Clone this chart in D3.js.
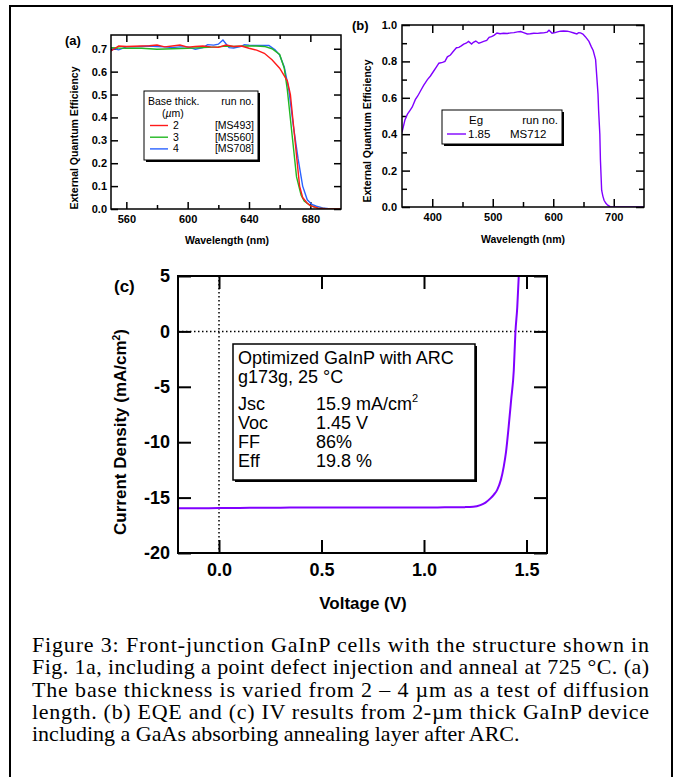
<!DOCTYPE html>
<html>
<head>
<meta charset="utf-8">
<script src="https://cdn.jsdelivr.net/npm/d3@7"></script>
<style>
  body { margin: 0; background: #fff; }
  svg { display: block; }
</style>
</head>
<body>
<svg id="fig" width="681" height="777"></svg>
<script>
// ---- data ----
// (a) EQE vs wavelength for three base thicknesses
const redWl = [550, 555, 560, 565, 570, 575, 580, 585, 590, 595, 600, 605, 610, 615, 620, 625, 630, 635, 640, 645, 650, 655, 660, 665, 667, 670, 673, 675, 678, 680, 685, 690, 695, 700];
const redEqe = [0.690, 0.712, 0.710, 0.711, 0.712, 0.713, 0.716, 0.708, 0.712, 0.716, 0.707, 0.710, 0.712, 0.708, 0.706, 0.716, 0.710, 0.712, 0.702, 0.694, 0.680, 0.652, 0.615, 0.560, 0.500, 0.300, 0.100, 0.050, 0.025, 0.015, 0.004, 0.001, 0, 0];

const greenWl = [550, 555, 560, 570, 580, 590, 600, 610, 620, 625, 630, 640, 645, 650, 655, 660, 663, 665, 668, 671, 674, 676, 680, 685, 690, 700];
const greenEqe = [0.705, 0.703, 0.702, 0.702, 0.698, 0.700, 0.702, 0.705, 0.708, 0.712, 0.710, 0.712, 0.712, 0.710, 0.700, 0.675, 0.615, 0.520, 0.330, 0.140, 0.060, 0.035, 0.015, 0.004, 0.001, 0];

const blueWl = [550, 552, 555, 560, 565, 570, 575, 580, 585, 590, 595, 600, 605, 610, 613, 617, 620, 623, 627, 630, 635, 637, 640, 645, 650, 653, 657, 660, 663, 666, 669, 672, 675, 678, 681, 684, 688, 692, 700];
const blueEqe = [0.690, 0.700, 0.695, 0.708, 0.708, 0.710, 0.712, 0.710, 0.708, 0.705, 0.708, 0.708, 0.698, 0.705, 0.718, 0.716, 0.720, 0.738, 0.705, 0.703, 0.710, 0.718, 0.716, 0.714, 0.714, 0.714, 0.695, 0.672, 0.620, 0.520, 0.360, 0.220, 0.100, 0.040, 0.020, 0.012, 0.005, 0.001, 0];

const legendA = [
  { thick: "2", run: "[MS493]", color: "#ff1a1a" },
  { thick: "3", run: "[MS560]", color: "#22b822" },
  { thick: "4", run: "[MS708]", color: "#2a62ff" },
];

// (b) EQE of MS712
const purpleWl = [350, 355, 359, 363, 367, 372, 376, 381, 386, 392, 397, 403, 407, 411, 417, 421, 425, 430, 436, 440, 444, 448, 452, 456, 460, 465, 468, 472, 477, 481, 485, 490, 494, 498, 502, 507, 512, 518, 524, 530, 535, 541, 546, 551, 557, 562, 568, 574, 579, 584, 590, 593, 598, 603, 607, 612, 617, 623, 628, 634, 639, 642, 645, 649, 653, 659, 663, 666, 670, 672, 674, 675, 677, 678, 680, 682, 684, 687, 690, 694, 700, 710, 720, 730, 740, 750];
const purpleEqe = [0.41, 0.48, 0.51, 0.53, 0.55, 0.59, 0.61, 0.64, 0.67, 0.70, 0.72, 0.75, 0.77, 0.79, 0.795, 0.80, 0.825, 0.835, 0.86, 0.875, 0.877, 0.885, 0.895, 0.90, 0.91, 0.895, 0.905, 0.912, 0.90, 0.905, 0.91, 0.915, 0.932, 0.936, 0.943, 0.956, 0.952, 0.955, 0.953, 0.957, 0.958, 0.962, 0.964, 0.958, 0.951, 0.952, 0.955, 0.954, 0.956, 0.957, 0.961, 0.971, 0.955, 0.958, 0.962, 0.966, 0.967, 0.966, 0.962, 0.956, 0.951, 0.958, 0.957, 0.950, 0.936, 0.910, 0.880, 0.860, 0.810, 0.715, 0.620, 0.530, 0.400, 0.257, 0.092, 0.060, 0.037, 0.020, 0.010, 0.002, 0, 0, 0, 0, 0, 0];

// (c) IV curve
const volts = [-0.2, -0.1, 0.0, 0.1, 0.2, 0.3, 0.4, 0.5, 0.6, 0.7, 0.8, 0.9, 1.0, 1.1, 1.2, 1.24, 1.275, 1.3, 1.324, 1.34, 1.357, 1.375, 1.389, 1.40, 1.413, 1.425, 1.438, 1.446, 1.455, 1.462, 1.47];
const jsc = [-15.97, -15.96, -15.94, -15.93, -15.92, -15.91, -15.9, -15.9, -15.9, -15.89, -15.89, -15.9, -15.9, -15.88, -15.86, -15.83, -15.68, -15.45, -15.07, -14.75, -14.3, -13.4, -12.2, -10.9, -8.6, -6.2, -3.5, -0.06, 2.2, 4.9, 7.0];

const legendCLines = ["Optimized GaInP with ARC", "g173g, 25 \u00b0C"];
const legendCRows = [["Jsc", "15.9 mA/cm", "2"], ["Voc", "1.45 V", ""], ["FF", "86%", ""], ["Eff", "19.8 %", ""]];

const captionLines = [
  "Figure 3: Front-junction GaInP cells with the structure shown in",
  "Fig. 1a, including a point defect injection and anneal at 725 \u00b0C. (a)",
  "The base thickness is varied from 2 \u2013 4 \u00b5m as a test of diffusion",
  "length. (b) EQE and (c) IV results from 2-\u00b5m thick GaInP device",
  "including a GaAs absorbing annealing layer after ARC.",
];

// ---- drawing ----
const svg = d3.select("#fig");
const SANS = "'Liberation Sans', Arial, Helvetica, sans-serif";
const SERIF = "'Liberation Serif', 'Times New Roman', Times, serif";

// outer frame
svg.append("rect")
  .attr("x", 10).attr("y", 6)
  .attr("width", 662).attr("height", 820)
  .attr("fill", "none").attr("stroke", "#000").attr("stroke-width", 2);

function zip(xs, ys) {
  return xs.map((x, i) => ({ x, y: ys[i] }));
}

// generic framed panel with inside ticks on all sides
function panel(opt) {
  const x = d3.scaleLinear().domain(opt.xDomain).range([opt.left, opt.right]);
  const y = d3.scaleLinear().domain(opt.yDomain).range([opt.bottom, opt.top]);
  const g = svg.append("g");
  const W = opt.right - opt.left;
  const H = opt.bottom - opt.top;

  const styleAxis = (sel) => {
    sel.select(".domain").remove();
    sel.selectAll("line").attr("stroke", "#000").attr("stroke-width", opt.tickWidth);
    sel.selectAll("text")
      .attr("fill", "#000")
      .style("font-family", SANS)
      .style("font-weight", "bold")
      .style("font-size", opt.tickFont + "px");
  };

  // bottom with labels
  g.append("g")
    .attr("transform", `translate(0,${opt.bottom})`)
    .call(d3.axisBottom(x).tickValues(opt.xMajor).tickSizeInner(-opt.major).tickSizeOuter(0)
      .tickPadding(opt.xPad).tickFormat(opt.xFormat))
    .call(styleAxis);
  g.append("g")
    .attr("transform", `translate(0,${opt.bottom})`)
    .call(d3.axisBottom(x).tickValues(opt.xMinor || []).tickSizeInner(-opt.minor).tickSizeOuter(0).tickFormat(""))
    .call(styleAxis);
  // top
  g.append("g")
    .attr("transform", `translate(0,${opt.top})`)
    .call(d3.axisTop(x).tickValues(opt.xMajor).tickSizeInner(-opt.major).tickSizeOuter(0).tickFormat(""))
    .call(styleAxis);
  g.append("g")
    .attr("transform", `translate(0,${opt.top})`)
    .call(d3.axisTop(x).tickValues(opt.xMinor || []).tickSizeInner(-opt.minor).tickSizeOuter(0).tickFormat(""))
    .call(styleAxis);
  // left with labels
  g.append("g")
    .attr("transform", `translate(${opt.left},0)`)
    .call(d3.axisLeft(y).tickValues(opt.yMajor).tickSizeInner(-opt.major).tickSizeOuter(0)
      .tickPadding(opt.yPad).tickFormat(opt.yFormat))
    .call(styleAxis);
  g.append("g")
    .attr("transform", `translate(${opt.left},0)`)
    .call(d3.axisLeft(y).tickValues(opt.yMinor || []).tickSizeInner(-opt.minor).tickSizeOuter(0).tickFormat(""))
    .call(styleAxis);
  // right
  g.append("g")
    .attr("transform", `translate(${opt.right},0)`)
    .call(d3.axisRight(y).tickValues(opt.yMajor).tickSizeInner(-opt.major).tickSizeOuter(0).tickFormat(""))
    .call(styleAxis);
  g.append("g")
    .attr("transform", `translate(${opt.right},0)`)
    .call(d3.axisRight(y).tickValues(opt.yMinor || []).tickSizeInner(-opt.minor).tickSizeOuter(0).tickFormat(""))
    .call(styleAxis);

  const clipId = "clip" + opt.id;
  svg.append("clipPath").attr("id", clipId)
    .append("rect").attr("x", opt.left).attr("y", opt.top).attr("width", W).attr("height", H);
  const plot = svg.append("g").attr("clip-path", `url(#${clipId})`);

  const frame = () => svg.append("rect")
    .attr("x", opt.left).attr("y", opt.top).attr("width", W).attr("height", H)
    .attr("fill", "none").attr("stroke", "#000").attr("stroke-width", opt.frameWidth);

  // axis titles
  svg.append("text")
    .attr("x", opt.xTitlePos[0]).attr("y", opt.xTitlePos[1])
    .attr("text-anchor", "middle")
    .style("font-family", SANS).style("font-weight", "bold").style("font-size", opt.titleFont + "px")
    .text(opt.xTitle);

  const yt = svg.append("text")
    .attr("transform", `translate(${opt.yTitlePos[0]},${opt.yTitlePos[1]}) rotate(-90)`)
    .attr("text-anchor", "middle")
    .attr("dy", "0.35em")
    .style("font-family", SANS).style("font-weight", "bold").style("font-size", opt.titleFont + "px");
  yt.append("tspan").text(opt.yTitle);
  if (opt.yTitleSup) {
    yt.append("tspan").attr("dy", "-0.6em").style("font-size", "0.6em").text(opt.yTitleSup);
    yt.append("tspan").attr("dy", "0.36em").text(opt.yTitleTail);
  }

  svg.append("text")
    .attr("x", opt.tag[0]).attr("y", opt.tag[1])
    .style("font-family", SANS).style("font-weight", "bold").style("font-size", opt.tagFont + "px")
    .text(opt.tagText);

  return { x, y, plot, frame };
}

function legendBox(x0, y0, w, h, sw) {
  svg.append("rect").attr("x", x0 + 2).attr("y", y0 + 2).attr("width", w).attr("height", h).attr("fill", "#000");
  svg.append("rect").attr("x", x0).attr("y", y0).attr("width", w).attr("height", h)
    .attr("fill", "#fff").attr("stroke", "#000").attr("stroke-width", sw);
}

// ---- panel (a) ----
const fmt1 = (d) => d.toFixed(1);
const pa = panel({
  id: "a", left: 111, right: 341, top: 35, bottom: 209,
  xDomain: [550, 700], yDomain: [0, 0.76],
  xMajor: [560, 600, 640, 680], xMinor: [580, 620, 660],
  yMajor: [0, 0.1, 0.2, 0.3, 0.4, 0.5, 0.6, 0.7],
  xFormat: (d) => String(d), yFormat: fmt1,
  major: 7, minor: 4, tickWidth: 1.5, frameWidth: 1.5,
  xPad: 6, yPad: 4, tickFont: 11, titleFont: 10.5,
  xTitle: "Wavelength (nm)", xTitlePos: [227, 244],
  yTitle: "External Quantum Efficiency", yTitlePos: [74, 138],
  tag: [65, 45], tagText: "(a)", tagFont: 13,
});

const lineA = d3.line().x((d) => pa.x(d.x)).y((d) => pa.y(d.y));
[[blueWl, blueEqe, legendA[2].color], [greenWl, greenEqe, legendA[1].color], [redWl, redEqe, legendA[0].color]]
  .forEach(([xs, ys, c]) => {
    pa.plot.append("path").datum(zip(xs, ys))
      .attr("fill", "none").attr("stroke", c).attr("stroke-width", 1.4)
      .attr("d", lineA);
  });
pa.frame();

legendBox(144, 91, 114, 69, 1);
const legA = svg.append("g").style("font-family", SANS).style("font-size", "10.5px");
legA.append("text").attr("x", 148).attr("y", 105).text("Base thick.");
legA.append("text").attr("x", 254).attr("y", 105).attr("text-anchor", "end").text("run no.");
const um = legA.append("text").attr("x", 162).attr("y", 117);
um.append("tspan").text("(");
um.append("tspan").style("font-style", "italic").text("\u00b5");
um.append("tspan").text("m)");
legendA.forEach((d, i) => {
  const yy = 129 + i * 11.7;
  legA.append("line").attr("x1", 150).attr("x2", 168).attr("y1", yy - 3.5).attr("y2", yy - 3.5)
    .attr("stroke", d.color).attr("stroke-width", 1.4);
  legA.append("text").attr("x", 173).attr("y", yy).text(d.thick);
  legA.append("text").attr("x", 254).attr("y", yy).attr("text-anchor", "end").text(d.run);
});

// ---- panel (b) ----
const pb = panel({
  id: "b", left: 402, right: 644, top: 25, bottom: 207,
  xDomain: [350, 750], yDomain: [0, 1.0],
  xMajor: [400, 500, 600, 700], xMinor: [450, 550, 650],
  yMajor: [0, 0.2, 0.4, 0.6, 0.8, 1.0], yMinor: [0.1, 0.3, 0.5, 0.7, 0.9],
  xFormat: (d) => String(d), yFormat: fmt1,
  major: 8, minor: 5, tickWidth: 1.5, frameWidth: 1.5,
  xPad: 6, yPad: 5, tickFont: 11, titleFont: 10.5,
  xTitle: "Wavelength (nm)", xTitlePos: [523, 243],
  yTitle: "External Quantum Efficiency", yTitlePos: [367, 131],
  tag: [352, 30], tagText: "(b)", tagFont: 13,
});
const lineB = d3.line().x((d) => pb.x(d.x)).y((d) => pb.y(d.y));
pb.plot.append("path").datum(zip(purpleWl, purpleEqe))
  .attr("fill", "none").attr("stroke", "#8000ff").attr("stroke-width", 1.4)
  .attr("d", lineB);
pb.frame();

legendBox(442, 110, 120, 34, 1);
const legB = svg.append("g").style("font-family", SANS).style("font-size", "11.5px");
legB.append("text").attr("x", 469).attr("y", 124).text("Eg");
legB.append("text").attr("x", 558).attr("y", 124).attr("text-anchor", "end").text("run no.");
legB.append("line").attr("x1", 447).attr("x2", 466).attr("y1", 134).attr("y2", 134)
  .attr("stroke", "#8000ff").attr("stroke-width", 1.4);
legB.append("text").attr("x", 468).attr("y", 138).text("1.85");
legB.append("text").attr("x", 510).attr("y", 138).text("MS712");

// ---- panel (c) ----
const pc = panel({
  id: "c", left: 178, right: 547, top: 276, bottom: 553,
  xDomain: [-0.2, 1.6], yDomain: [-20, 5],
  xMajor: [0, 0.5, 1.0, 1.5],
  yMajor: [-20, -15, -10, -5, 0, 5],
  xFormat: fmt1, yFormat: (d) => String(d),
  major: 13, minor: 6, tickWidth: 2, frameWidth: 2,
  xPad: 10, yPad: 8, tickFont: 18, titleFont: 17,
  xTitle: "Voltage (V)", xTitlePos: [363, 609],
  yTitle: "Current Density (mA/cm", yTitleSup: "2", yTitleTail: ")", yTitlePos: [120, 432],
  tag: [114, 292], tagText: "(c)", tagFont: 17,
});
// dotted zero lines
pc.plot.append("line")
  .attr("x1", pc.x(-0.2)).attr("x2", pc.x(1.6)).attr("y1", pc.y(0)).attr("y2", pc.y(0))
  .attr("stroke", "#000").attr("stroke-width", 1.5).attr("stroke-dasharray", "1.5 2.5");
pc.plot.append("line")
  .attr("x1", pc.x(0)).attr("x2", pc.x(0)).attr("y1", pc.y(5)).attr("y2", pc.y(-20))
  .attr("stroke", "#000").attr("stroke-width", 1.5).attr("stroke-dasharray", "1.5 2.5");
const lineC = d3.line().x((d) => pc.x(d.x)).y((d) => pc.y(d.y)).curve(d3.curveMonotoneX);
pc.plot.append("path").datum(zip(volts, jsc))
  .attr("fill", "none").attr("stroke", "#8000ff").attr("stroke-width", 2)
  .attr("d", lineC);
pc.frame();

legendBox(233, 344, 242, 136, 1.5);
const legC = svg.append("g").style("font-family", SANS).style("font-size", "18px");
legendCLines.forEach((t, i) => {
  legC.append("text").attr("x", 238).attr("y", 364 + i * 19.3).text(t);
});
legendCRows.forEach((r, i) => {
  const yy = 410 + i * 19;
  legC.append("text").attr("x", 238).attr("y", yy).text(r[0]);
  const t = legC.append("text").attr("x", 316).attr("y", yy);
  t.append("tspan").text(r[1]);
  if (r[2]) t.append("tspan").attr("dy", "-0.7em").style("font-size", "11px").text(r[2]);
});

// ---- caption ----
const cap = svg.append("g").attr("font-family", SERIF).attr("font-size", 22);
captionLines.forEach((t, i) => {
  const tx = cap.append("text").attr("x", 32).attr("y", 652 + i * 22.3).text(t);
  if (i < captionLines.length - 1) tx.attr("textLength", 617).attr("lengthAdjust", "spacing");
});
</script>
</body>
</html>
